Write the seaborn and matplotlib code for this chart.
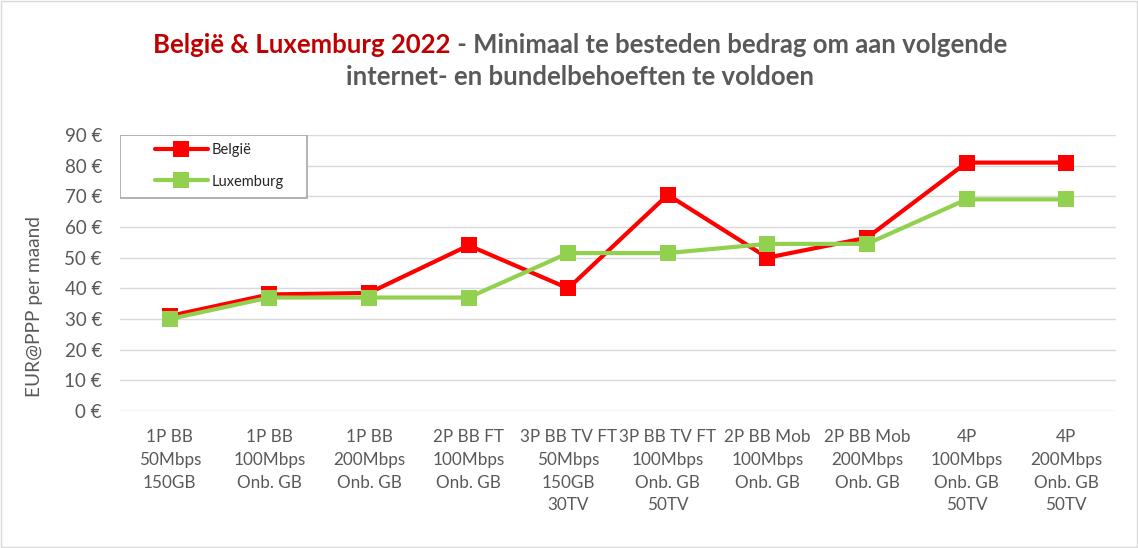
import numpy as np
import pandas as pd
import matplotlib
matplotlib.use("Agg")
import matplotlib.pyplot as plt
import seaborn as sns
from matplotlib.patches import Rectangle

## data
categories = ["1P BB\n50Mbps\n150GB", "1P BB\n100Mbps\nOnb. GB", "1P BB\n200Mbps\nOnb. GB",
              "2P BB FT\n100Mbps\nOnb. GB", "3P BB TV FT\n50Mbps\n150GB\n30TV",
              "3P BB TV FT\n100Mbps\nOnb. GB\n50TV", "2P BB Mob\n100Mbps\nOnb. GB",
              "2P BB Mob\n200Mbps\nOnb. GB", "4P\n100Mbps\nOnb. GB\n50TV", "4P\n200Mbps\nOnb. GB\n50TV"]
belgie = [31, 38, 38.5, 54, 40, 70.5, 50, 56.5, 81, 81]
luxemburg = [30, 37, 37, 37, 51.5, 51.5, 54.5, 54.5, 69, 69]
series_names = ["België", "Luxemburg"]
y_ticks = list(range(0, 100, 10))

df = pd.DataFrame({
    "pos": list(range(len(categories))) * 2,
    "waarde": belgie + luxemburg,
    "land": [series_names[0]] * len(belgie) + [series_names[1]] * len(luxemburg),
})

sns.set_theme(style="white")
plt.rcParams["font.family"] = ["Lato", "DejaVu Sans"]

grey = "#595959"
W, H = 1138, 548
fig = plt.figure(figsize=(W / 100, H / 100), dpi=100)
ax = fig.add_axes([120 / W, 1 - 411 / H, 996 / W, 276 / H])

sns.lineplot(data=df, x="pos", y="waarde", hue="land", hue_order=series_names,
             palette=["#FF0000", "#92D050"], style="land", markers=["s", "s"], dashes=False,
             markersize=11.5, markeredgewidth=0, linewidth=3, ax=ax)

ax.set_xlim(-0.5, len(categories) - 0.5)
ax.set_ylim(0, 90)
ax.set_yticks(y_ticks)
ax.set_yticklabels([f"{v} €" for v in y_ticks])
ax.set_xticks(range(len(categories)))
ax.set_xticklabels(categories, linespacing=1.52)
ax.tick_params(axis="both", length=0, colors=grey)
ax.tick_params(axis="y", pad=13, labelsize=13.5)
ax.tick_params(axis="x", pad=13, labelsize=12.3)
ax.grid(axis="y", color="#D9D9D9", linewidth=1)
ax.set_axisbelow(True)
for s in ax.spines.values():
    s.set_visible(False)
ax.set_xlabel("")
ax.set_ylabel("EUR@PPP per maand", fontsize=13.7, color=grey)
ax.yaxis.set_label_coords(-0.077, 0.38)

# legend: box drawn separately so the entries can sit further right
ax.add_patch(Rectangle((0, 1 - 63 / 276), 187 / 996, 63 / 276, transform=ax.transAxes,
                       facecolor="white", edgecolor="#A6A6A6", linewidth=1.2, zorder=4))
leg = ax.legend(loc="upper left", bbox_to_anchor=(27 / 996, 1), borderaxespad=0,
                frameon=False, fontsize=10.5, handlelength=3.6, handletextpad=0.3,
                labelspacing=1.2, borderpad=0.55)
leg.set_zorder(5)

# title in two colours, both lines centred
fs = 18.5
fig.canvas.draw()
r = fig.canvas.get_renderer()
t1 = fig.text(0, 1 - 45 / H, "België & Luxemburg 2022", fontsize=fs,
              fontweight="bold", color="#C00000", va="center", ha="left")
t2 = fig.text(0, 1 - 45 / H, " - Minimaal te besteden bedrag om aan volgende", fontsize=fs,
              fontweight="bold", color=grey, va="center", ha="left")
w1 = t1.get_window_extent(r).width
w2 = t2.get_window_extent(r).width
x0 = 580 - (w1 + w2) / 2
t1.set_x(x0 / W)
t2.set_x((x0 + w1) / W)
fig.text(580 / W, 1 - 77 / H, "internet- en bundelbehoeften te voldoen", fontsize=fs,
         fontweight="bold", color=grey, va="center", ha="center")

fig.patches.append(Rectangle((0.001, 0.001), 0.998, 0.997, transform=fig.transFigure,
                             fill=False, edgecolor="#D9D9D9", linewidth=1))

fig.savefig("out.png", dpi=100)
